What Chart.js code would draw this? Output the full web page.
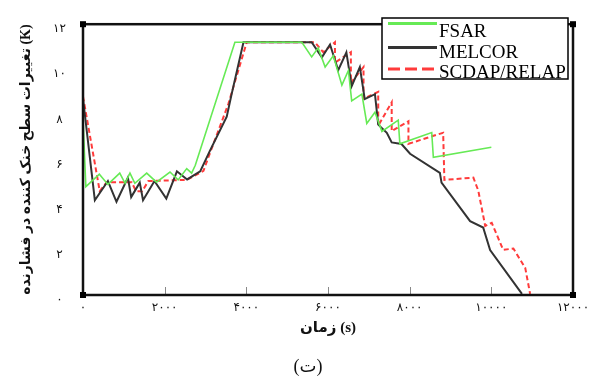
<!DOCTYPE html>
<html lang="fa">
<head>
    <meta charset="UTF-8">
    <title>تغییرات سطح خنک کننده در فشارنده</title>
    <script src="https://cdn.jsdelivr.net/npm/chart.js"></script>
    <style>
        body {
            margin: 0;
            background-color: #fff;
        }
        .chart-box {
            width: 597px;
            height: 379px;
            position: relative;
        }
    </style>
</head>
<body>
    <div class="chart-box">
        <canvas id="myChart"></canvas>
    </div>

    <script>
        // زمان (s) و سطح (K) برای هر کد
        const fsarTime   = [0, 70, 400, 610, 900, 1030, 1150, 1270, 1560, 1800, 2130, 2330, 2540, 2660, 2750, 3720, 5360, 5600, 5760, 5930, 6130, 6340, 6500, 6580, 6830, 6950, 7150, 7320, 7720, 7760, 8540, 8580, 10000];
        const fsarLevel  = [7.8, 4.8, 5.35, 4.9, 5.4, 4.95, 5.4, 4.95, 5.4, 5.0, 5.45, 5.1, 5.6, 5.4, 5.75, 11.2, 11.2, 10.55, 10.95, 10.1, 10.6, 9.3, 9.95, 8.6, 8.9, 7.6, 8.1, 7.25, 7.75, 6.7, 7.2, 6.1, 6.55];

        const melcorTime  = [0, 290, 610, 820, 1100, 1180, 1390, 1470, 1750, 2040, 2300, 2550, 2870, 3110, 3520, 3640, 3930, 5600, 5850, 6050, 6250, 6450, 6580, 6780, 6900, 7150, 7230, 7440, 7560, 7800, 8010, 8740, 8780, 9480, 9800, 9970, 10750];
        const melcorLevel = [8.7, 4.2, 5.05, 4.13, 5.2, 4.34, 4.98, 4.2, 5.05, 4.27, 5.48, 5.12, 5.48, 6.4, 7.9, 8.9, 11.2, 11.2, 10.53, 11.1, 9.96, 10.75, 9.25, 10.1, 8.68, 8.9, 7.55, 7.19, 6.76, 6.69, 6.26, 5.41, 4.98, 3.27, 2.99, 1.99, 0.05];

        const relapTime  = [0, 410, 580, 1190, 1300, 1450, 1600, 2540, 2950, 3060, 3560, 3970, 4010, 5680, 5880, 6170, 6170, 6560, 6560, 6870, 6870, 7230, 7230, 7560, 7560, 7970, 7970, 8820, 8850, 9560, 9680, 9850, 10010, 10290, 10540, 10830, 10950];
        const relapLevel = [8.8, 4.6, 5.0, 5.0, 4.6, 4.6, 5.05, 5.1, 5.5, 6.05, 8.47, 10.96, 11.2, 11.2, 10.76, 11.2, 10.3, 10.76, 9.4, 10.1, 8.7, 9.0, 7.5, 8.54, 7.26, 7.7, 6.7, 7.19, 5.1, 5.2, 4.63, 3.06, 3.2, 2.0, 2.06, 1.2, 0.05];

        const xTicks = [0, 2000, 4000, 6000, 8000, 10000, 12000];
        const yTicks = [0, 2, 4, 6, 8, 10, 12];

        const seriesNames = ['FSAR', 'MELCOR', 'SCDAP/RELAP'];
        const caption = '(ت)';

        // اعداد فارسی برای برچسب‌ها
        const toFa = n => String(n).replace(/\d/g, d => '۰۱۲۳۴۵۶۷۸۹'[d]);
        const toPoints = (xs, ys) => xs.map((x, i) => ({ x: x, y: ys[i] }));

        // قاب ضخیم، تیک‌های داخلی، لژند و زیرنویس
        const framePlugin = {
            id: 'frame',
            afterDatasetsDraw(chart) {
                const { ctx, chartArea: { left, top, right, bottom }, scales: { x } } = chart;
                ctx.save();

                // تیک‌های محور افقی رو به داخل
                ctx.strokeStyle = '#888';
                ctx.lineWidth = 1;
                xTicks.forEach(v => {
                    const px = Math.round(x.getPixelForValue(v)) + 0.5;
                    ctx.beginPath();
                    ctx.moveTo(px, bottom);
                    ctx.lineTo(px, bottom - 8);
                    ctx.stroke();
                });

                ctx.strokeStyle = '#111';
                ctx.lineWidth = 2.5;
                ctx.strokeRect(left, top, right - left, bottom - top);
                ctx.fillStyle = '#000';
                [[left, top], [right, top], [left, bottom], [right, bottom]].forEach(([cx, cy]) => {
                    ctx.fillRect(cx - 3, cy - 3, 6, 6);
                });

                // لژند
                const bx = 382, by = 18, bw = 186, bh = 61;
                ctx.fillStyle = '#fff';
                ctx.fillRect(bx, by, bw, bh);
                ctx.strokeStyle = '#000';
                ctx.lineWidth = 1.5;
                ctx.strokeRect(bx, by, bw, bh);

                const rowsY = [23.5, 47.5, 69];
                const baseY = [37, 58, 78];
                ctx.font = '19px "Liberation Serif", serif';
                ctx.textBaseline = 'alphabetic';
                ctx.textAlign = 'left';
                chart.data.datasets.forEach((ds, i) => {
                    ctx.strokeStyle = ds.borderColor;
                    ctx.lineWidth = 3;
                    ctx.setLineDash(ds.borderDash && ds.borderDash.length ? [12, 5] : []);
                    ctx.beginPath();
                    ctx.moveTo(388, rowsY[i]);
                    ctx.lineTo(437, rowsY[i]);
                    ctx.stroke();
                    ctx.setLineDash([]);
                    ctx.fillStyle = '#000';
                    ctx.fillText(ds.label, 439, baseY[i]);
                });

                // زیرنویس شکل
                ctx.font = '18px "Liberation Serif", "DejaVu Sans", serif';
                ctx.textAlign = 'center';
                ctx.textBaseline = 'middle';
                ctx.fillStyle = '#111';
                ctx.fillText(caption, 308, 367);

                ctx.restore();
            }
        };

        const ctx = document.getElementById('myChart').getContext('2d');

        new Chart(ctx, {
            type: 'line',
            data: {
                datasets: [
                    {
                        label: seriesNames[0],
                        data: toPoints(fsarTime, fsarLevel),
                        borderColor: '#66ea55',
                        borderWidth: 1.6,
                        pointRadius: 0,
                        tension: 0
                    },
                    {
                        label: seriesNames[1],
                        data: toPoints(melcorTime, melcorLevel),
                        borderColor: '#333333',
                        borderWidth: 2,
                        pointRadius: 0,
                        tension: 0
                    },
                    {
                        label: seriesNames[2],
                        data: toPoints(relapTime, relapLevel),
                        borderColor: '#ff3b3b',
                        borderWidth: 2,
                        borderDash: [5, 3],
                        pointRadius: 0,
                        tension: 0
                    }
                ]
            },
            options: {
                responsive: true,
                maintainAspectRatio: false,
                animation: false,
                layout: {
                    padding: { left: 0, right: 24, top: 14, bottom: 0 }
                },
                scales: {
                    x: {
                        type: 'linear',
                        min: 0,
                        max: 12000,
                        afterBuildTicks: scale => { scale.ticks = xTicks.map(v => ({ value: v })); },
                        afterFit: scale => { scale.height = 84; },
                        grid: { display: false, drawTicks: false },
                        border: { display: false },
                        ticks: {
                            autoSkip: false,
                            maxRotation: 0,
                            padding: 6,
                            color: '#111',
                            font: { family: '"DejaVu Sans", sans-serif', size: 12 },
                            callback: v => toFa(v)
                        },
                        title: {
                            display: true,
                            text: 'زمان (s)',
                            color: '#111',
                            font: { family: '"Liberation Serif", "DejaVu Sans", serif', size: 15, weight: 'bold' },
                            padding: { top: 0, bottom: 42 }
                        }
                    },
                    y: {
                        type: 'linear',
                        min: 0,
                        max: 12,
                        afterBuildTicks: scale => { scale.ticks = yTicks.map(v => ({ value: v })); },
                        afterFit: scale => { scale.width = 83; },
                        grid: { display: false, drawTicks: false },
                        border: { display: false },
                        ticks: {
                            padding: 17,
                            crossAlign: 'center',
                            labelOffset: 5,
                            color: '#111',
                            font: { family: '"DejaVu Sans", sans-serif', size: 12 },
                            callback: v => toFa(v)
                        },
                        title: {
                            display: true,
                            text: 'تغییرات سطح خنک کننده در فشارنده (K)',
                            color: '#111',
                            font: { family: '"Liberation Serif", "DejaVu Sans", serif', size: 14, weight: 'bold' },
                            padding: { top: 18, bottom: 0 }
                        }
                    }
                },
                plugins: {
                    legend: { display: false },
                    tooltip: { enabled: false }
                }
            },
            plugins: [framePlugin]
        });
    </script>
</body>
</html>
